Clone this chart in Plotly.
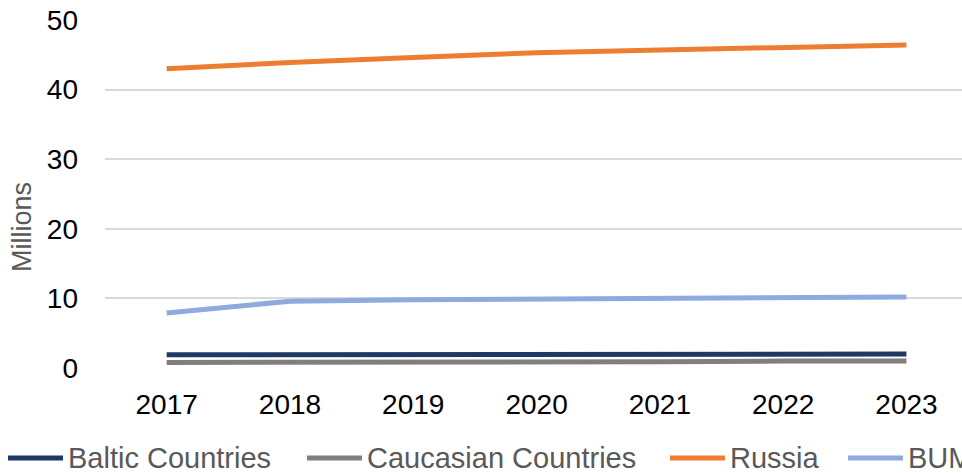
import plotly.graph_objects as go

years = ["2017", "2018", "2019", "2020", "2021", "2022", "2023"]
baltic = [1.9, 1.9, 1.9, 2.0, 2.0, 2.0, 2.0]
caucasian = [0.8, 0.8, 0.9, 0.9, 0.9, 1.0, 1.0]
russia = [43.0, 43.9, 44.6, 45.3, 45.7, 46.1, 46.4]
bum = [7.9, 9.6, 9.8, 9.9, 10.0, 10.15, 10.2]

series_names = ["Baltic Countries", "Caucasian Countries", "Russia", "BUM"]
series_values = [baltic, caucasian, russia, bum]
colors = ["#203864", "#7f7f7f", "#ED7D31", "#8FAADC"]

W, H = 962, 473
ML, MR, MT, MB = 105, 0, 20, 105
PW, PH = W - ML - MR, H - MT - MB
FONT = "Liberation Sans, Arial, Helvetica, sans-serif"

fig = go.Figure()
for name, vals, col in zip(series_names, series_values, colors):
    fig.add_trace(go.Scatter(x=years, y=vals, mode="lines", name=name,
                             line=dict(color=col, width=5), showlegend=False))

def px_x(px):
    return (px - ML) / PW

def px_y(py):
    return (H - MB - py) / PH

# manual legend (bottom, cropped at right like the reference)
legend_line_start = [8, 307, 670, 848]
legend_y = 458
for name, col, x0 in zip(series_names, colors, legend_line_start):
    fig.add_shape(type="line", xref="paper", yref="paper",
                  x0=px_x(x0), x1=px_x(x0 + 55), y0=px_y(legend_y), y1=px_y(legend_y),
                  line=dict(color=col, width=5))
    fig.add_annotation(text=name, xref="paper", yref="paper",
                       x=px_x(x0 + 58), y=px_y(legend_y), xanchor="left", yanchor="middle",
                       showarrow=False, font=dict(family=FONT, size=29, color="#595959"))

# y-axis title
fig.add_annotation(text="Millions", xref="paper", yref="paper",
                   x=px_x(22), y=px_y(227), xanchor="center", yanchor="middle",
                   textangle=-90, showarrow=False,
                   font=dict(family=FONT, size=27, color="#595959"))

fig.update_layout(
    width=W, height=H,
    margin=dict(l=ML, r=MR, t=MT, b=MB),
    paper_bgcolor="white", plot_bgcolor="white",
    font=dict(family=FONT, size=28, color="#000000"),
)
fig.update_xaxes(type="category", range=[-0.5, -0.5 + PW / 123.3],
                 showgrid=False, zeroline=False, showline=False, ticks="",
                 ticklabelstandoff=17, tickfont=dict(size=28, color="#000000"))
fig.update_yaxes(range=[0, 50], dtick=10, showgrid=True, gridcolor="#d9d9d9", gridwidth=2,
                 zeroline=False, showline=False, ticks="", ticklabelstandoff=26,
                 tickfont=dict(size=28, color="#000000"))

fig.write_html("out.html")
